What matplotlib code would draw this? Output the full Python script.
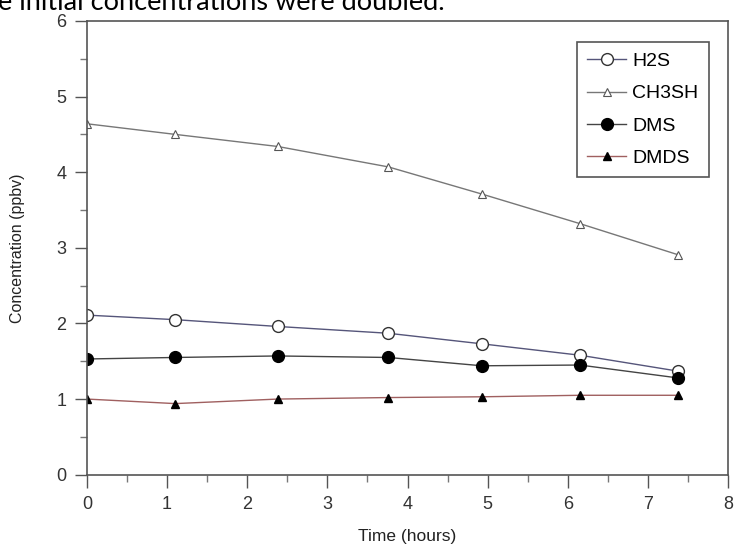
import matplotlib.pyplot as plt
from matplotlib.ticker import MultipleLocator

# time points (hours)
time_h = [0, 1.1, 2.38, 3.76, 4.93, 6.15, 7.37]

h2s = [2.11, 2.05, 1.96, 1.87, 1.73, 1.58, 1.37]
ch3sh = [4.64, 4.50, 4.34, 4.07, 3.71, 3.32, 2.91]
dms = [1.53, 1.55, 1.57, 1.55, 1.44, 1.45, 1.28]
dmds = [1.00, 0.94, 1.00, 1.02, 1.03, 1.05, 1.05]

fig = plt.figure(figsize=(7.34, 5.51), dpi=100)
ax = fig.add_axes([0.1185, 0.1385, 0.8735, 0.8235])

# cut-off caption line from the surrounding document
fig.text(-0.003, 1 - 10 / 551, "e initial concentrations were doubled.",
         fontsize=19.5, family=["Lato", "DejaVu Sans"], va="baseline", ha="left",
         color="black")

ax.plot(time_h, h2s, "-o", color="#55557a", lw=1, ms=8.5, mfc="white",
        mec="#333333", mew=1, label="H2S")
ax.plot(time_h, ch3sh, "-^", color="#777777", lw=1, ms=6, mfc="white",
        mec="#555555", mew=0.8, label="CH3SH")
ax.plot(time_h, dms, "-o", color="#444444", lw=1, ms=8.5, mfc="black",
        mec="black", label="DMS")
ax.plot(time_h, dmds, "-^", color="#a06060", lw=1, ms=6, mfc="black",
        mec="black", label="DMDS")

ax.set_xlim(0, 8)
ax.set_ylim(0, 6)
ax.xaxis.set_major_locator(MultipleLocator(1))
ax.xaxis.set_minor_locator(MultipleLocator(0.5))
ax.yaxis.set_major_locator(MultipleLocator(1))
ax.yaxis.set_minor_locator(MultipleLocator(0.5))
ax.tick_params(which="major", direction="out", length=9, width=1,
               colors="#555555", labelcolor="#333333", labelsize=13, pad=6)
ax.tick_params(which="minor", direction="out", length=5, width=1,
               colors="#777777")
ax.tick_params(top=False, right=False, which="both")
for tl in ax.get_xticklabels() + ax.get_yticklabels():
    tl.set_family(["Liberation Sans", "DejaVu Sans"])

for s in ax.spines.values():
    s.set_color("#555555")
    s.set_linewidth(1.2)

ax.set_xlabel("Time (hours)", fontsize=12.5, family=["Liberation Sans"],
              color="#222222", labelpad=12)
ax.set_ylabel("Concentration (ppbv)", fontsize=11.5, family=["Liberation Sans"],
              color="#222222", labelpad=22)

leg = ax.legend(loc="upper right", bbox_to_anchor=(0.970, 0.954), fancybox=False,
                framealpha=1, edgecolor="#555555",
                prop={"family": "Liberation Sans", "size": 14},
                handlelength=2.0, handletextpad=0.3, labelspacing=0.75,
                borderpad=0.55, borderaxespad=0)
leg.get_frame().set_linewidth(1.2)

fig.savefig("out.png", dpi=100)
